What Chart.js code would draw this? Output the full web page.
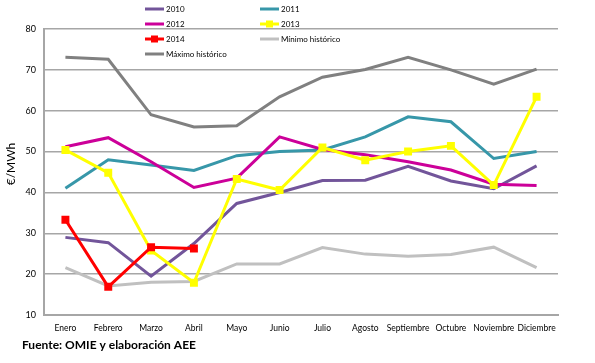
<!DOCTYPE html>
<html>
<head>
<meta charset="utf-8">
<script src="https://cdn.jsdelivr.net/npm/chart.js@4"></script>
<style>
  html, body { margin: 0; padding: 0; background: #fff; }
  #wrap { width: 595px; height: 363px; position: relative; }
</style>
</head>
<body>
<div id="wrap"><canvas id="grafico"></canvas></div>
<script>
// datos (€/MWh)
const meses = ['Enero', 'Febrero', 'Marzo', 'Abril', 'Mayo', 'Junio', 'Julio', 'Agosto', 'Septiembre', 'Octubre', 'Noviembre', 'Diciembre'];
const yTicks = [10, 20, 30, 40, 50, 60, 70, 80];

const p2010 = [29.0, 27.7, 19.5, 27.5, 37.3, 40.0, 42.9, 43.0, 46.4, 42.8, 40.9, 46.5];
const p2011 = [41.0, 48.0, 46.7, 45.4, 49.0, 50.0, 50.4, 53.6, 58.5, 57.3, 48.3, 50.0];
const p2012 = [51.2, 53.4, 47.5, 41.2, 43.5, 53.6, 50.5, 49.2, 47.5, 45.5, 42.0, 41.7];
const p2013 = [50.4, 44.8, 25.8, 17.9, 43.3, 40.6, 51.0, 47.9, 50.0, 51.4, 41.8, 63.4];
const p2014 = [33.3, 16.9, 26.6, 26.3, null, null, null, null, null, null, null, null];
const minimo = [21.6, 17.1, 18.0, 18.2, 22.5, 22.5, 26.5, 24.9, 24.4, 24.8, 26.6, 21.6];
const maximo = [73.1, 72.6, 59.0, 56.0, 56.3, 63.4, 68.2, 70.1, 73.1, 70.0, 66.5, 70.2];

const fuente = 'Fuente: OMIE y elaboración AEE';
const tituloY = '€/MWh';

function serie(label, data, color, orden, marcador) {
    return {
        label: label,
        data: data,
        borderColor: color,
        backgroundColor: color,
        borderWidth: 3,
        tension: 0,
        order: orden,
        pointStyle: 'rect',
        pointRadius: marcador ? 3.5 : 0,
        pointHoverRadius: marcador ? 3.5 : 0,
        spanGaps: false,
        marcador: marcador
    };
}

const datasets = [
    serie('2010', p2010, '#72559a', 4, false),
    serie('2011', p2011, '#3797a9', 3, false),
    serie('2012', p2012, '#cc0099', 2, false),
    serie('2013', p2013, '#ffff00', 1, true),
    serie('2014', p2014, '#ff0000', 0, true),
    serie('Mínimo histórico', minimo, '#c0c0c0', 5, false),
    serie('Máximo histórico', maximo, '#808080', 6, false)
];

// leyenda en dos columnas y textos extra, como en Excel
const extras = {
    id: 'extras',
    afterDraw(chart) {
        const ctx = chart.ctx;
        ctx.save();
        const cols = [145, 260];
        const filas = [9, 24, 39, 54];
        ctx.font = '8px Lato';
        ctx.textBaseline = 'middle';
        ctx.textAlign = 'left';
        chart.data.datasets.forEach((ds, i) => {
            const x = cols[i % 2];
            const y = filas[Math.floor(i / 2)];
            ctx.strokeStyle = ds.borderColor;
            ctx.lineWidth = 3;
            ctx.beginPath();
            ctx.moveTo(x, y);
            ctx.lineTo(x + 19, y);
            ctx.stroke();
            if (ds.marcador) {
                ctx.fillStyle = ds.borderColor;
                ctx.fillRect(x + 6, y - 3.5, 7, 7);
            }
            ctx.fillStyle = '#000';
            ctx.fillText(ds.label, x + 21, y);
        });

        ctx.font = 'bold 12px Lato';
        ctx.fillText(fuente, 22, 345);

        ctx.translate(11, 164);
        ctx.rotate(-Math.PI / 2);
        ctx.textAlign = 'center';
        ctx.font = '12px Lato';
        ctx.fillText(tituloY, 0, 0);
        ctx.restore();
    }
};

new Chart(document.getElementById('grafico'), {
    type: 'line',
    data: { labels: meses, datasets: datasets },
    options: {
        responsive: true,
        maintainAspectRatio: false,
        animation: false,
        events: [],
        layout: { padding: { top: 29, right: 37, left: 0, bottom: 0 } },
        plugins: {
            legend: { display: false },
            tooltip: { enabled: false }
        },
        scales: {
            x: {
                offset: true,
                grid: { display: false, drawTicks: false },
                border: { display: true, color: '#a6a6a6', width: 2 },
                ticks: {
                    autoSkip: false,
                    maxRotation: 0,
                    padding: 8,
                    color: '#000',
                    font: { family: 'Lato', size: 8.5 }
                },
                afterFit(scale) { scale.height = 48; }
            },
            y: {
                min: 10,
                max: 80,
                afterBuildTicks(scale) { scale.ticks = yTicks.map(v => ({ value: v })); },
                grid: { color: '#a6a6a6', lineWidth: 1.5, drawTicks: false },
                border: { display: true, color: '#a6a6a6', width: 2 },
                ticks: {
                    padding: 8,
                    color: '#000',
                    font: { family: 'Lato', size: 9 }
                },
                afterFit(scale) { scale.width = 44; }
            }
        }
    },
    plugins: [extras]
});
</script>
</body>
</html>
